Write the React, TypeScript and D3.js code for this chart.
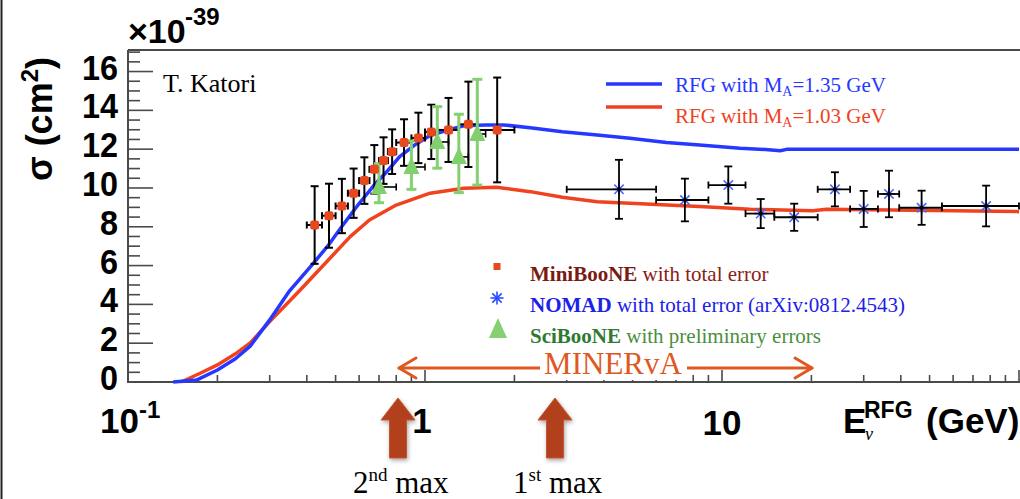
import * as d3 from 'd3';

// RFG model curves (sigma in 1e-39 cm^2)
const blueE = [0.142, 0.17, 0.2, 0.23, 0.258, 0.3, 0.35, 0.42, 0.47, 0.53, 0.6, 0.67, 0.75, 0.82, 0.92, 1.04, 1.2, 1.35, 1.6, 1.84, 2.26, 2.9, 3.8, 4.9, 6.5, 8.4, 11.5, 14, 15.7, 16.5, 18.3, 100];
const blueXS = [0, 0.1, 0.62, 1.2, 1.85, 3.2, 4.7, 6.1, 7.0, 8.1, 9.2, 10.1, 10.9, 11.6, 12.2, 12.7, 13.0, 13.2, 13.25, 13.25, 13.1, 12.9, 12.73, 12.56, 12.34, 12.22, 12.05, 11.98, 11.92, 11.99, 12.0, 12.0];
const redE = [0.151, 0.175, 0.2, 0.23, 0.258, 0.3, 0.38, 0.45, 0.56, 0.65, 0.8, 1.04, 1.35, 1.74, 2.26, 2.9, 3.8, 4.9, 8.4, 12.4, 20.2, 22.5, 100];
const redXS = [0, 0.45, 0.88, 1.45, 2.01, 3.11, 4.74, 5.94, 7.49, 8.35, 9.12, 9.73, 9.98, 10.04, 9.81, 9.52, 9.29, 9.21, 9.04, 8.9, 8.83, 8.9, 8.78];

// MiniBooNE
const mbE = [0.425, 0.475, 0.525, 0.575, 0.625, 0.675, 0.725, 0.775, 0.85, 0.95, 1.05, 1.2, 1.4, 1.75];
const mbLo = [0.4, 0.45, 0.5, 0.55, 0.6, 0.65, 0.7, 0.75, 0.8, 0.9, 1.0, 1.1, 1.3, 1.5];
const mbHi = [0.45, 0.5, 0.55, 0.6, 0.65, 0.7, 0.75, 0.8, 0.9, 1.0, 1.1, 1.3, 1.5, 2.0];
const mbXS = [8.09, 8.57, 9.07, 9.73, 10.38, 10.96, 11.41, 11.87, 12.34, 12.58, 12.89, 12.99, 13.28, 12.99];
const mbErr = [2.0, 1.65, 1.4, 1.27, 1.2, 1.25, 1.2, 1.15, 1.2, 1.3, 1.4, 1.65, 2.2, 2.7];

// SciBooNE
const sbE = [0.7, 0.9, 1.1, 1.3, 1.5];
const sbXS = [10.05, 11.08, 12.37, 11.6, 12.78];
const sbUp = [1.2, 1.34, 1.82, 2.2, 2.82];
const sbDn = [0.81, 1.15, 1.35, 1.84, 2.63];

// NOMAD
const ndE = [4.5, 7.5, 10.5, 13.5, 17.5, 24, 30, 36.5, 47, 77.5];
const ndLo = [3, 6, 9, 12, 15, 21, 27, 33.5, 39.5, 55];
const ndHi = [6, 9, 12, 15, 21, 27, 33.5, 39.5, 55, 100];
const ndXS = [9.93, 9.38, 10.15, 8.68, 8.49, 9.93, 8.92, 9.69, 8.98, 9.07];
const ndErr = [1.52, 1.1, 0.96, 0.75, 0.7, 0.88, 0.93, 1.2, 0.88, 1.05];

const yTicks = [0, 2, 4, 6, 8, 10, 12, 14, 16];

const BLUE = '#2638ff';
const RED = '#f0421e';
const ORANGE = '#e0581e';
const RUST = '#b2411f';
const SERIF = '"Liberation Serif", "DejaVu Serif", serif';
const SANS = '"Liberation Sans", Arial, sans-serif';

const x = d3.scaleLog().domain([0.1, 100]).range([128, 1019]);
const y = d3.scaleLinear().domain([0, 17.11]).range([382, 50]);

const line = d3.line<[number, number]>().x(d => x(d[0])).y(d => y(d[1]));

function Asterisk({ cx, cy, r = 6.5, color = '#4a68ff' }: { cx: number; cy: number; r?: number; color?: string }) {
    const d = r * 0.72;
    return (
        <g stroke={color} strokeWidth={1.6}>
            <line x1={cx - r} y1={cy} x2={cx + r} y2={cy} />
            <line x1={cx} y1={cy - r} x2={cx} y2={cy + r} />
            <line x1={cx - d} y1={cy - d} x2={cx + d} y2={cy + d} />
            <line x1={cx - d} y1={cy + d} x2={cx + d} y2={cy - d} />
        </g>
    );
}

function Triangle({ cx, cy, color = '#82cf6e' }: { cx: number; cy: number; color?: string }) {
    return <path d={`M${cx},${cy - 10}L${cx + 8},${cy + 7}L${cx - 8},${cy + 7}Z`} fill={color} />;
}

function BigArrow({ cx }: { cx: number }) {
    const p = [
        [cx - 8.5, 458], [cx - 8.5, 420], [cx - 17, 420], [cx, 398],
        [cx + 17, 420], [cx + 8.5, 420], [cx + 8.5, 458],
    ].map(q => q.join(',')).join(' ');
    return <polygon points={p} fill={RUST} stroke="#c45630" strokeWidth={1} filter="url(#shadow)" />;
}

export default function App() {
    const xMinor: number[] = [];
    [0.1, 1, 10].forEach(dec => {
        for (let k = 2; k <= 9; k++) xMinor.push(dec * k);
    });
    const yMinor = d3.range(0, 17.01, 0.5).filter(v => v % 2 !== 0);

    const blueLine = line(blueE.map((e, i) => [e, blueXS[i]] as [number, number])) ?? '';
    const redLine = line(redE.map((e, i) => [e, redXS[i]] as [number, number])) ?? '';

    return (
        <svg width={1020} height={499} style={{ position: 'absolute', left: 0, top: 0, background: '#fff' }}>
            <defs>
                <filter id="shadow" x="-50%" y="-20%" width="200%" height="150%">
                    <feDropShadow dx="1" dy="2" stdDeviation="2" floodColor="#000" floodOpacity="0.35" />
                </filter>
            </defs>
            <rect width={1020} height={499} fill="#fff" />
            <line x1={1.5} y1={0} x2={1.5} y2={499} stroke="#222" strokeWidth={2} />

            {/* frame */}
            <g stroke="#4a4a4a" strokeWidth={2} fill="none">
                <line x1={128} y1={50} x2={1020} y2={50} />
                <line x1={128} y1={50} x2={128} y2={383} />
                <line x1={127} y1={382} x2={1020} y2={382} />
            </g>

            {/* y ticks */}
            <g stroke="#4a4a4a" strokeWidth={1.6}>
                {yTicks.map(v => <line key={'M' + v} x1={128} x2={153} y1={y(v)} y2={y(v)} />)}
                {yMinor.map(v => <line key={'m' + v} x1={128} x2={140} y1={y(v)} y2={y(v)} />)}
            </g>
            <g fontFamily={SANS} fontWeight="bold" fontSize={36} fill="#000" textAnchor="end">
                {yTicks.map(v => (
                    <text key={v} transform={`translate(118,${y(v) + 8}) scale(0.9,1)`}>{v}</text>
                ))}
            </g>

            {/* x ticks */}
            <g stroke="#4a4a4a" strokeWidth={1.6}>
                {[0.1, 1, 10, 100].map(v => <line key={'M' + v} x1={x(v)} x2={x(v)} y1={382} y2={370} />)}
                {xMinor.map(v => <line key={'m' + v} x1={x(v)} x2={x(v)} y1={382} y2={375} />)}
            </g>
            <g fontFamily={SANS} fontWeight="bold" fill="#000">
                <text x={100} y={433} fontSize={35}>10<tspan fontSize={24} dy={-15}>-1</tspan></text>
                <text x={x(1) - 3} y={433} fontSize={35} textAnchor="middle">1</text>
                <text x={x(10)} y={435} fontSize={35} textAnchor="middle">10</text>
                <text x={128} y={43} fontSize={34}>×10</text>
                <text x={185} y={25} fontSize={24}>-39</text>
                <text x={843} y={433} fontSize={35}>E</text>
                <text x={864} y={418} fontSize={23}>RFG</text>
                <text x={865} y={440} fontSize={18} fontWeight="normal" fontFamily={SERIF} fontStyle="italic">ν</text>
                <text x={926} y={433} fontSize={35}>(GeV)</text>
            </g>
            <text transform="translate(52,181) rotate(-90)" fontFamily={SANS} fontWeight="bold" fontSize={36} fill="#000">
                σ (cm<tspan fontSize={24} dy={-14}>2</tspan><tspan dy={14}>)</tspan>
            </text>

            <text x={163} y={92} fontFamily={SERIF} fontSize={26} fill="#000">T. Katori</text>

            {/* model curves */}
            <path d={redLine} fill="none" stroke={RED} strokeWidth={3.5} strokeLinejoin="round" />
            <path d={blueLine} fill="none" stroke={BLUE} strokeWidth={3.5} strokeLinejoin="round" />

            {/* MiniBooNE error bars */}
            <g stroke="#000" strokeWidth={2}>
                {mbE.map((e, i) => {
                    const cx = x(e), cy = y(mbXS[i]);
                    const t = y(mbXS[i] + mbErr[i]), b = y(mbXS[i] - mbErr[i]);
                    const l = x(mbLo[i]), r = x(mbHi[i]);
                    return (
                        <g key={i}>
                            <line x1={cx} x2={cx} y1={t} y2={b} />
                            <line x1={cx - 4} x2={cx + 4} y1={t} y2={t} />
                            <line x1={cx - 4} x2={cx + 4} y1={b} y2={b} />
                            <line x1={l} x2={r} y1={cy} y2={cy} />
                            <line x1={l} x2={l} y1={cy - 3.5} y2={cy + 3.5} />
                            <line x1={r} x2={r} y1={cy - 3.5} y2={cy + 3.5} />
                        </g>
                    );
                })}
            </g>

            {/* SciBooNE */}
            <g>
                {sbE.map((e, i) => {
                    const cx = x(e), cy = y(sbXS[i]);
                    const t = y(sbXS[i] + sbUp[i]), b = y(sbXS[i] - sbDn[i]);
                    const r = x(e + 0.1);
                    return (
                        <g key={i}>
                            <g stroke="#000" strokeWidth={1.6}>
                                <line x1={cx} x2={r} y1={cy} y2={cy} />
                                <line x1={r} x2={r} y1={cy - 3.5} y2={cy + 3.5} />
                            </g>
                            <g stroke="#85d073" strokeWidth={3}>
                                <line x1={cx} x2={cx} y1={t} y2={b} />
                                <line x1={cx - 5} x2={cx + 5} y1={t} y2={t} />
                                <line x1={cx - 5} x2={cx + 5} y1={b} y2={b} />
                            </g>
                            <Triangle cx={cx} cy={cy} />
                        </g>
                    );
                })}
            </g>

            {/* MiniBooNE markers */}
            {mbE.map((e, i) => (
                <rect key={i} x={x(e) - 4.5} y={y(mbXS[i]) - 4.5} width={9} height={9} rx={2.5} fill="#e8481e" />
            ))}

            {/* NOMAD */}
            {ndE.map((e, i) => {
                const cx = x(e), cy = y(ndXS[i]);
                const t = y(ndXS[i] + ndErr[i]), b = y(ndXS[i] - ndErr[i]);
                const l = x(ndLo[i]), r = x(ndHi[i]);
                return (
                    <g key={i}>
                        <Asterisk cx={cx} cy={cy} />
                        <g stroke="#000" strokeWidth={1.8}>
                            <line x1={cx} x2={cx} y1={t} y2={b} />
                            <line x1={cx - 4} x2={cx + 4} y1={t} y2={t} />
                            <line x1={cx - 4} x2={cx + 4} y1={b} y2={b} />
                            <line x1={l} x2={r} y1={cy} y2={cy} />
                            <line x1={l} x2={l} y1={cy - 3.5} y2={cy + 3.5} />
                            <line x1={r} x2={r} y1={cy - 3.5} y2={cy + 3.5} />
                        </g>
                        <circle cx={cx} cy={cy} r={2} fill="#000" />
                    </g>
                );
            })}

            {/* top legend */}
            <line x1={606} x2={662} y1={84} y2={84} stroke={BLUE} strokeWidth={3.5} />
            <line x1={606} x2={662} y1={107} y2={107} stroke={RED} strokeWidth={3.5} />
            <g fontFamily={SERIF} fontSize={21}>
                <text x={675} y={92} fill={BLUE}>RFG with M<tspan fontSize={14} dy={4}>A</tspan><tspan dy={-4}>=1.35 GeV</tspan></text>
                <text x={675} y={123} fill={RED}>RFG with M<tspan fontSize={14} dy={4}>A</tspan><tspan dy={-4}>=1.03 GeV</tspan></text>
            </g>

            {/* bottom legend */}
            <rect x={493.5} y={263} width={7} height={7} fill="#e8481e" />
            <Asterisk cx={497} cy={298} color="#2a4cff" />
            <path d="M498,318L507,338L489,338Z" fill="#85d073" />
            <g fontFamily={SERIF} fontSize={21}>
                <text x={530} y={281} fill="#8a2116"><tspan fontWeight="bold" fill="#7a1a12">MiniBooNE</tspan> with total error</text>
                <text x={530} y={312} fill="#1c22e8"><tspan fontWeight="bold">NOMAD</tspan> with total error (arXiv:0812.4543)</text>
                <text x={530} y={343} fill="#4a8f3c"><tspan fontWeight="bold" fill="#2f7a30">SciBooNE</tspan> with preliminary errors</text>
            </g>

            {/* MINERvA range */}
            <g stroke={ORANGE} strokeWidth={3} fill="none" strokeLinecap="round" strokeLinejoin="round">
                <line x1={399} x2={812} y1={368} y2={368} />
                <polyline points="416,358 399,368 416,378" />
                <polyline points="795,358 812,368 795,378" />
            </g>
            <rect x={540} y={350} width={147} height={30} fill="#fff" />
            <text x={613} y={374} textAnchor="middle" fontFamily={SERIF} fontSize={31} fill={ORANGE}>MINERvA</text>

            {/* oscillation maxima */}
            <BigArrow cx={398} />
            <BigArrow cx={555} />
            <g fontFamily={SERIF} fontSize={31} fill="#000">
                <text x={353} y={493}>2<tspan fontSize={19} dy={-12}>nd</tspan><tspan dy={12}> max</tspan></text>
                <text x={513} y={493}>1<tspan fontSize={19} dy={-12}>st</tspan><tspan dy={12}> max</tspan></text>
            </g>
        </svg>
    );
}
